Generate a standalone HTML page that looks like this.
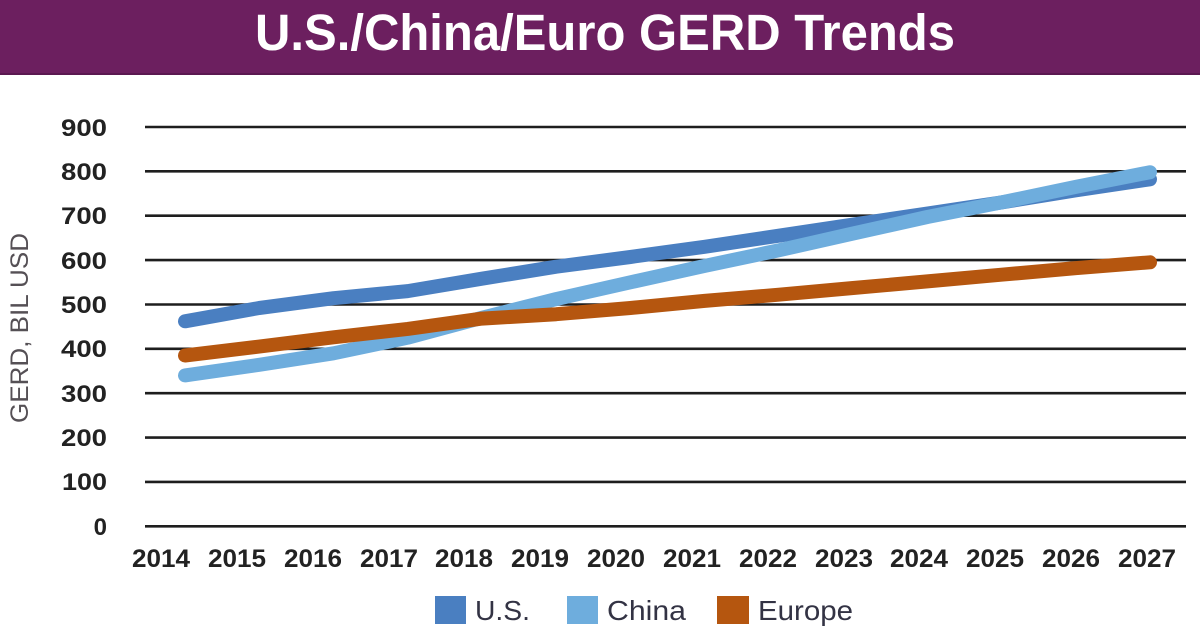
<!DOCTYPE html>
<html>
<head>
<meta charset="utf-8">
<style>
  html, body { margin: 0; padding: 0; background: #ffffff; }
  body { width: 1200px; height: 630px; overflow: hidden; }
  svg { display: block; }
  text { font-family: "Liberation Sans", Arial, sans-serif; }
</style>
</head>
<body>
<svg width="1200" height="630" viewBox="0 0 1200 630" xmlns="http://www.w3.org/2000/svg">
  <!-- Header -->
  <rect x="0" y="0" width="1200" height="75" fill="#6c1f5f"/>
  <rect x="0" y="73" width="1200" height="2" fill="#5a1850"/>
  <text x="605" y="50" text-anchor="middle" font-size="51" font-weight="bold" fill="#ffffff" textLength="700" lengthAdjust="spacingAndGlyphs">U.S./China/Euro GERD Trends</text>

  <!-- Gridlines -->
  <g stroke="#1e1e1e" stroke-width="2.6">
    <line x1="145" y1="127.0" x2="1186" y2="127.0"/>
    <line x1="145" y1="171.3" x2="1186" y2="171.3"/>
    <line x1="145" y1="215.7" x2="1186" y2="215.7"/>
    <line x1="145" y1="260.1" x2="1186" y2="260.1"/>
    <line x1="145" y1="304.5" x2="1186" y2="304.5"/>
    <line x1="145" y1="348.8" x2="1186" y2="348.8"/>
    <line x1="145" y1="393.2" x2="1186" y2="393.2"/>
    <line x1="145" y1="437.6" x2="1186" y2="437.6"/>
    <line x1="145" y1="481.9" x2="1186" y2="481.9"/>
    <line x1="145" y1="526.3" x2="1186" y2="526.3"/>
  </g>

  <!-- Y tick labels -->
  <g font-size="24" font-weight="bold" fill="#222222" text-anchor="end">
    <text x="107" y="136" textLength="46" lengthAdjust="spacingAndGlyphs">900</text>
    <text x="107" y="180" textLength="46" lengthAdjust="spacingAndGlyphs">800</text>
    <text x="107" y="224" textLength="46" lengthAdjust="spacingAndGlyphs">700</text>
    <text x="107" y="269" textLength="46" lengthAdjust="spacingAndGlyphs">600</text>
    <text x="107" y="313" textLength="46" lengthAdjust="spacingAndGlyphs">500</text>
    <text x="107" y="357" textLength="46" lengthAdjust="spacingAndGlyphs">400</text>
    <text x="107" y="402" textLength="46" lengthAdjust="spacingAndGlyphs">300</text>
    <text x="107" y="446" textLength="46" lengthAdjust="spacingAndGlyphs">200</text>
    <text x="107" y="490" textLength="45" lengthAdjust="spacingAndGlyphs">100</text>
    <text x="107" y="535">0</text>
  </g>

  <!-- Y axis title -->
  <text transform="translate(28,328) rotate(-90)" text-anchor="middle" font-size="25" fill="#555055" textLength="190" lengthAdjust="spacingAndGlyphs">GERD, BIL USD</text>

  <!-- X tick labels -->
  <g font-size="25" font-weight="bold" fill="#222222" text-anchor="middle">
    <text x="161" y="567" textLength="58" lengthAdjust="spacingAndGlyphs">2014</text>
    <text x="237" y="567" textLength="58" lengthAdjust="spacingAndGlyphs">2015</text>
    <text x="313" y="567" textLength="58" lengthAdjust="spacingAndGlyphs">2016</text>
    <text x="389" y="567" textLength="58" lengthAdjust="spacingAndGlyphs">2017</text>
    <text x="464" y="567" textLength="58" lengthAdjust="spacingAndGlyphs">2018</text>
    <text x="540" y="567" textLength="58" lengthAdjust="spacingAndGlyphs">2019</text>
    <text x="616" y="567" textLength="58" lengthAdjust="spacingAndGlyphs">2020</text>
    <text x="692" y="567" textLength="58" lengthAdjust="spacingAndGlyphs">2021</text>
    <text x="768" y="567" textLength="58" lengthAdjust="spacingAndGlyphs">2022</text>
    <text x="844" y="567" textLength="58" lengthAdjust="spacingAndGlyphs">2023</text>
    <text x="919" y="567" textLength="58" lengthAdjust="spacingAndGlyphs">2024</text>
    <text x="995" y="567" textLength="58" lengthAdjust="spacingAndGlyphs">2025</text>
    <text x="1071" y="567" textLength="58" lengthAdjust="spacingAndGlyphs">2026</text>
    <text x="1147" y="567" textLength="58" lengthAdjust="spacingAndGlyphs">2027</text>
  </g>

  <!-- Series -->
  <g fill="none" stroke-width="14" stroke-linecap="round" stroke-linejoin="round">
    <polyline stroke="#4a7fc1" points="185,321.3 259.2,308.0 333.5,298.2 407.7,291.1 481.9,278.7 556.2,266.7 630.4,257.0 704.6,246.8 778.8,235.7 853.1,224.6 927.3,213.5 1001.5,202.4 1075.8,190.4 1150,179.3"/>
    <polyline stroke="#6eaddd" points="185,375.4 259.2,364.8 333.5,353.3 407.7,337.7 481.9,317.8 556.2,299.1 630.4,282.3 704.6,265.9 778.8,250.3 853.1,233.5 927.3,217.0 1001.5,202.4 1075.8,186.9 1150,172.2"/>
    <polyline stroke="#b5560f" points="185,355.5 259.2,346.6 333.5,337.3 407.7,328.9 481.9,318.6 556.2,314.2 630.4,308.0 704.6,300.9 778.8,294.7 853.1,288.0 927.3,281.4 1001.5,274.7 1075.8,268.1 1150,262.3"/>
  </g>

  <!-- Legend -->
  <rect x="435" y="596" width="31" height="28" fill="#4a7fc1"/>
  <text x="475" y="620" font-size="28" fill="#333344" textLength="55" lengthAdjust="spacingAndGlyphs">U.S.</text>
  <rect x="567" y="596" width="31" height="28" fill="#6eaddd"/>
  <text x="607" y="620" font-size="28" fill="#333344" textLength="79" lengthAdjust="spacingAndGlyphs">China</text>
  <rect x="717" y="596" width="32" height="28" fill="#b5560f"/>
  <text x="758" y="620" font-size="28" fill="#333344" textLength="95" lengthAdjust="spacingAndGlyphs">Europe</text>
</svg>
</body>
</html>
